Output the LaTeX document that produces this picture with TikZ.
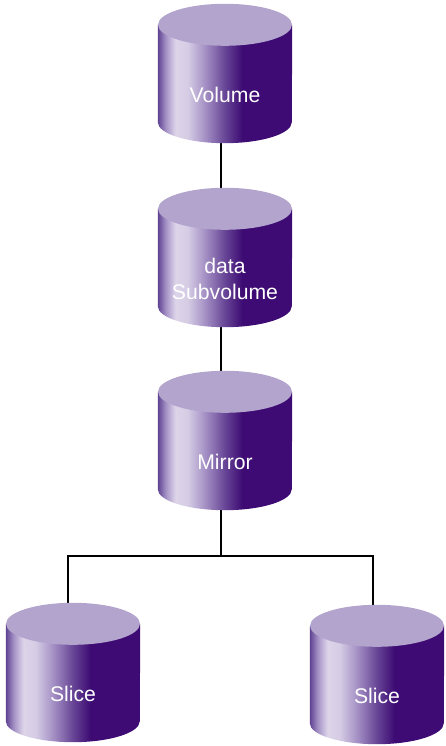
\documentclass[tikz,border=0pt]{standalone}
\usepackage{fontspec}
\setmainfont{Liberation Sans}
\usetikzlibrary{calc}
\definecolor{cA}{HTML}{5F4392}
\definecolor{cB}{HTML}{A592C6}
\definecolor{cC}{HTML}{DCD4E9}
\definecolor{cD}{HTML}{D6CDE5}
\definecolor{cE}{HTML}{A591C5}
\definecolor{cF}{HTML}{674596}
\definecolor{cG}{HTML}{3D0B73}
\definecolor{topcol}{HTML}{B2A4CC}
\pgfdeclarehorizontalshading{cylshade}{100bp}{color(0bp)=(cA); color(25bp)=(cA); color(28bp)=(cB); color(31.5bp)=(cC); color(36bp)=(cD); color(42.5bp)=(cE); color(50bp)=(cF); color(56.5bp)=(cG); color(75bp)=(cG); color(100bp)=(cG)}
\pgfdeclarelayer{bg}
\pgfdeclarelayer{mid}
\pgfsetlayers{bg,mid,main}
\tikzset{
  cyl/.style={rectangle, minimum width=134pt, minimum height=97pt, inner sep=0pt,
    text=white, align=center, font=\fontsize{21.2}{26}\selectfont},
  conn/.style={draw=black, line width=2.5pt}
}
\begin{document}
\begin{tikzpicture}[x=1pt,y=1pt]
\useasboundingbox (0,0) rectangle (445,746);
\node[cyl] (vol) at (225,651.5) {Volume};
\node[cyl] (sub) at (225,467.5) {data\\Subvolume};
\node[cyl] (mir) at (225,284.5) {Mirror};
\node[cyl] (sl) at (73,52.5) {Slice};
\node[cyl] (sr) at (377,50.5) {Slice};
\begin{pgfonlayer}{mid}
\foreach \n in {vol,sub,mir,sl,sr}{
  \shade[shading=cylshade] ([yshift=21pt]\n.north west) -- ([yshift=21pt]\n.south west)
    arc[start angle=180,end angle=360,x radius=67pt,y radius=21pt]
    -- ([yshift=21pt]\n.north east) -- cycle;
  \fill[topcol] ([yshift=21pt]\n.north) ellipse[x radius=67pt,y radius=21pt];
}
\end{pgfonlayer}
\begin{pgfonlayer}{bg}
\coordinate (j) at (221,190);
\draw[conn] ([xshift=-4pt]vol.south) -- ([xshift=-4pt]sub.north);
\draw[conn] ([xshift=-4pt]sub.south) -- ([xshift=-4pt]mir.north);
\draw[conn] ([xshift=-4pt]mir.south) -- (j);
\draw[conn] ([xshift=-5pt]sl.north) |- (j) -| ([xshift=-4pt]sr.north);
\end{pgfonlayer}
\end{tikzpicture}
\end{document}
